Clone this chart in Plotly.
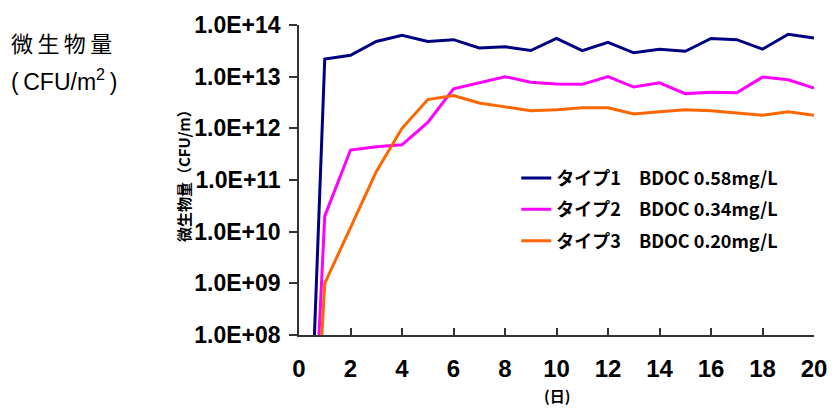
import plotly.graph_objects as go

# Days of incubation
days = list(range(0, 21))

# Biomass (CFU/m) per day for each BDOC level
type1 = [1, 2.2e13, 2.6e13, 4.8e13, 6.3e13, 4.8e13, 5.2e13, 3.6e13, 3.8e13, 3.2e13, 5.5e13,
         3.2e13, 4.6e13, 2.9e13, 3.4e13, 3.1e13, 5.5e13, 5.2e13, 3.4e13, 6.6e13, 5.6e13]
type2 = [1, 2.0e10, 3.8e11, 4.4e11, 4.8e11, 1.3e12, 5.8e12, 7.6e12, 1.0e13, 7.8e12, 7.2e12,
         7.1e12, 1.0e13, 6.3e12, 7.6e12, 4.7e12, 5.0e12, 4.9e12, 9.8e12, 8.7e12, 6.0e12]
type3 = [1, 1.0e9, 1.2e10, 1.45e11, 1.0e12, 3.6e12, 4.3e12, 3.1e12, 2.6e12, 2.2e12, 2.3e12,
         2.5e12, 2.5e12, 1.9e12, 2.1e12, 2.3e12, 2.2e12, 2.0e12, 1.8e12, 2.1e12, 1.8e12]

series_names = ["タイプ1　BDOC 0.58mg/L", "タイプ2　BDOC 0.34mg/L", "タイプ3　BDOC 0.20mg/L"]
series_colors = ["#000080", "#FF00FF", "#FF6600"]

y_tickvals = [1e8, 1e9, 1e10, 1e11, 1e12, 1e13, 1e14]
y_ticktext = ["1.0E+08", "1.0E+09", "1.0E+10", "1.0E+11", "1.0E+12", "1.0E+13", "1.0E+14"]
x_tickvals = list(range(0, 21, 2))

NUM_FONT = "Liberation Sans, Arial, sans-serif"
JP_FONT = "Noto Sans CJK JP, sans-serif"

# plot area geometry (pixels)
L, R, T, B = 298.5, 15.5, 20.7, 77
W, H = 839, 412
PW, PH = W - L - R, H - T - B


def px(xp):
    return (xp - L) / PW


def py(yp):
    return (H - B - yp) / PH


fig = go.Figure()
for i, (vals, name, color) in enumerate(zip([type1, type2, type3], series_names, series_colors)):
    fig.add_trace(go.Scatter(
        x=days, y=vals, mode="lines", name=name,
        line=dict(color=color, width=3),
        legendgroup=f"g{i}",
    ))

fig.update_layout(
    width=W, height=H,
    margin=dict(l=L, r=R, t=T, b=B),
    paper_bgcolor="white", plot_bgcolor="white",
    showlegend=True,
    legend=dict(
        x=px(520), y=py(208), xanchor="left", yanchor="middle",
        font=dict(family=JP_FONT, size=18, color="black", weight="bold"),
        bgcolor="rgba(0,0,0,0)", tracegroupgap=5, itemwidth=30,
    ),
    xaxis=dict(
        range=[0, 20], tickvals=x_tickvals, ticks="inside", ticklen=7,
        tickcolor="#333", tickwidth=1.5,
        showline=True, linecolor="#333", linewidth=1.5, showgrid=False, zeroline=False,
        tickfont=dict(family=NUM_FONT, size=24, color="black", weight="bold"),
        ticklabelstandoff=11,
    ),
    yaxis=dict(
        type="log", range=[8, 14], tickvals=y_tickvals, ticktext=y_ticktext,
        ticks="outside", ticklen=8, tickcolor="#333", tickwidth=1.5,
        showline=True, linecolor="#333", linewidth=1.5, showgrid=False, zeroline=False,
        tickfont=dict(family=NUM_FONT, size=23, color="black", weight="bold"),
        ticklabelstandoff=4,
    ),
    annotations=[
        dict(text="微生物量（CFU/m）", xref="paper", yref="paper",
             x=px(181), y=py(170), xanchor="center", yanchor="middle", textangle=-90,
             showarrow=False, font=dict(family=JP_FONT, size=15, color="black", weight="bold")),
        dict(text="(日)", xref="paper", yref="paper",
             x=px(561), y=py(396), xanchor="center", yanchor="middle",
             showarrow=False, font=dict(family=JP_FONT, size=15, color="black", weight="bold")),
        dict(text="微\u2009生\u2009物\u2009量", xref="paper", yref="paper",
             x=px(3), y=py(38), xanchor="left", yanchor="middle",
             showarrow=False, font=dict(family=JP_FONT, size=22, color="black")),
        dict(text="(\u2009CFU/m<sup>2</sup>\u2009)", xref="paper", yref="paper",
             x=px(3), y=py(76), xanchor="left", yanchor="middle",
             showarrow=False, font=dict(family=NUM_FONT, size=23, color="black")),
    ],
)

fig.write_html("out.html")
